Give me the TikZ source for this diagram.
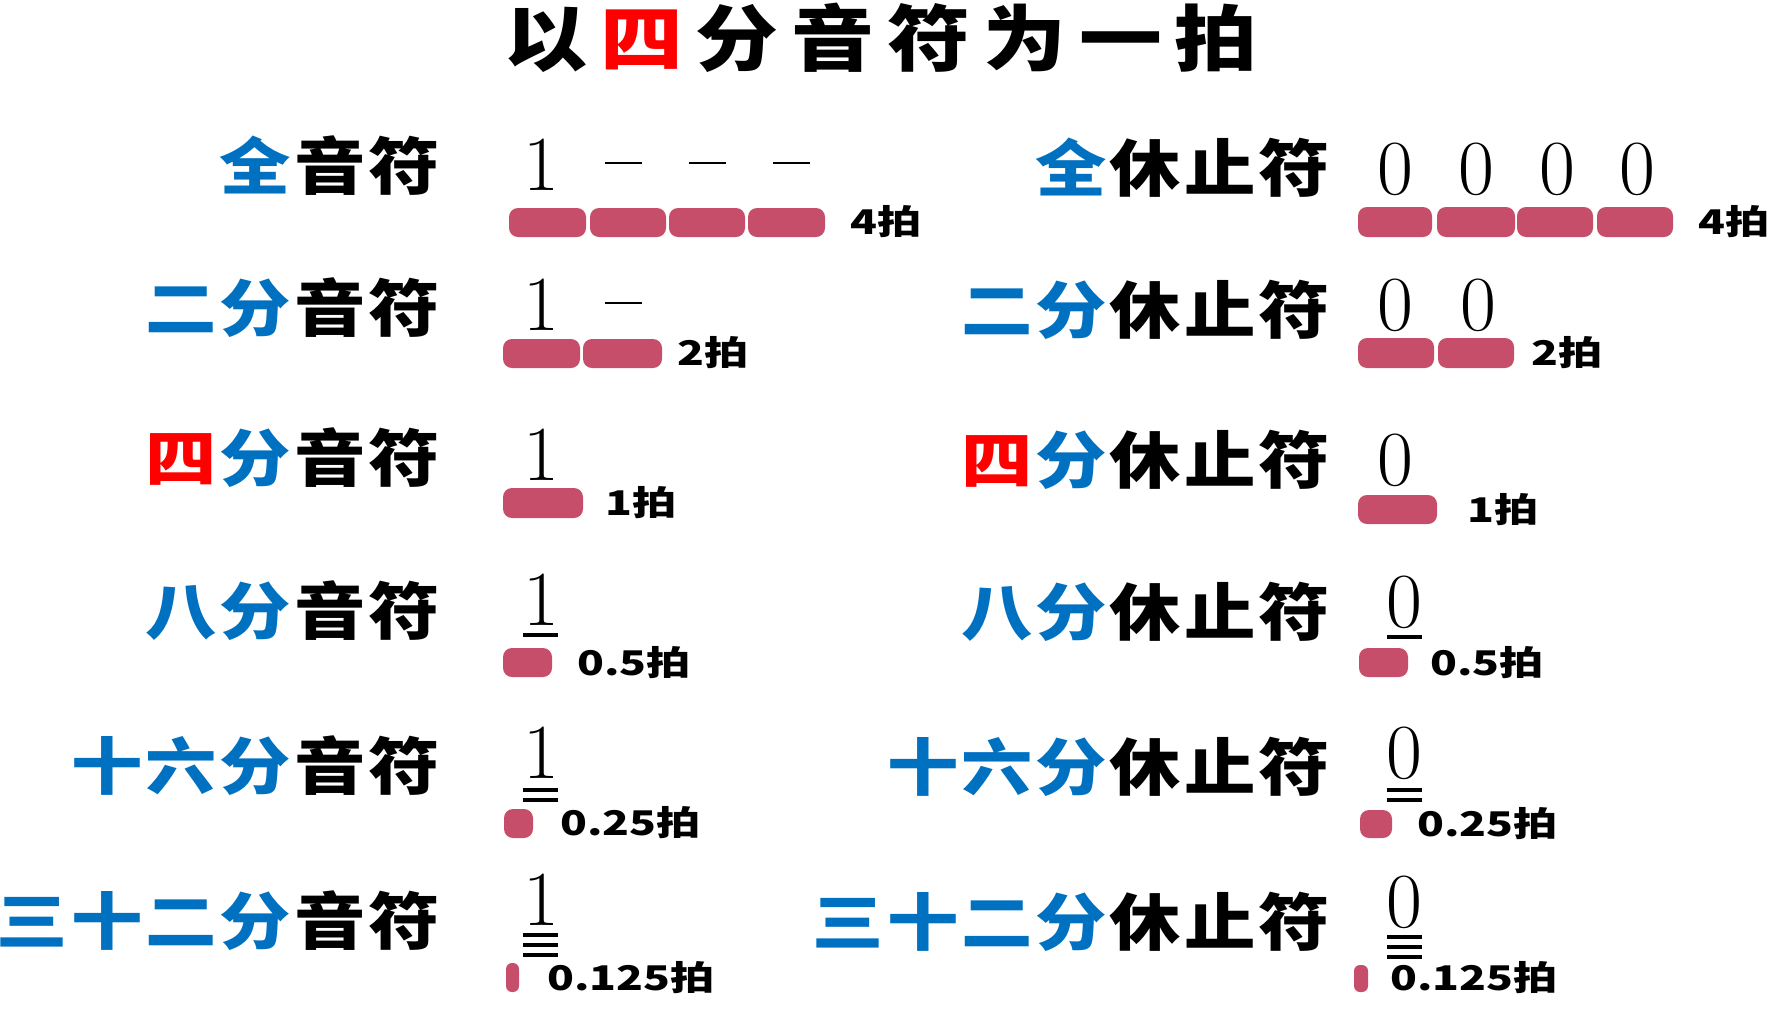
\documentclass[tikz,border=0pt]{standalone}
\usepackage{fontspec}
\newfontfamily\cjklab{Noto Sans CJK SC}[FakeStretch=1.15]
\newfontfamily\cjkbeat{Noto Sans CJK SC}[FakeStretch=1.3]
\definecolor{lblue}{RGB}{0,112,192}
\definecolor{barcol}{RGB}{199,78,107}
\definecolor{sred}{RGB}{255,0,0}
\newcommand\gp{\hspace{3pt}}
\newcommand\tg{\hspace{13pt}}
\tikzset{
 lab/.style={anchor=east, inner sep=0pt, font=\cjklab\bfseries\fontsize{62}{70}\selectfont},
 ttl/.style={inner sep=0pt, font=\cjklab\bfseries\fontsize{72}{80}\selectfont},
 num/.style={anchor=base, inner sep=0pt, font=\fontsize{78}{80}\selectfont},
 beat/.style={anchor=west, inner sep=0pt, font=\cjkbeat\bfseries\fontsize{34}{36}\selectfont},
 barbox/.style={fill=barcol, rounded corners=9pt},
 dashl/.style={line width=2.5pt},
 ul/.style={line width=4pt},
}
\begin{document}
\begin{tikzpicture}[x=1pt,y=-1pt]
\useasboundingbox (0,0) rectangle (1777,1010);
% title
\node[ttl] (title) at (881,38) {以\tg{}{\color{sred}四}\tg{}分\tg{}音\tg{}符\tg{}为\tg{}一\tg{}拍};

% left labels
\node[lab] (l1) at (440,166) {{\color{lblue}全}\gp{}音\gp{}符};
\node[lab] (l2) at (440,308) {{\color{lblue}二\gp{}分}\gp{}音\gp{}符};
\node[lab] (l3) at (440,458) {{\color{sred}四}\gp{}{\color{lblue}分}\gp{}音\gp{}符};
\node[lab] (l4) at (440,611) {{\color{lblue}八\gp{}分}\gp{}音\gp{}符};
\node[lab] (l5) at (440,766) {{\color{lblue}十\gp{}六\gp{}分}\gp{}音\gp{}符};
\node[lab] (l6) at (440,921) {{\color{lblue}三\gp{}十\gp{}二\gp{}分}\gp{}音\gp{}符};

% right labels
\node[lab] (r1) at (1330,168) {{\color{lblue}全}\gp{}休\gp{}止\gp{}符};
\node[lab] (r2) at (1330,310) {{\color{lblue}二\gp{}分}\gp{}休\gp{}止\gp{}符};
\node[lab] (r3) at (1330,460) {{\color{sred}四}\gp{}{\color{lblue}分}\gp{}休\gp{}止\gp{}符};
\node[lab] (r4) at (1330,612) {{\color{lblue}八\gp{}分}\gp{}休\gp{}止\gp{}符};
\node[lab] (r5) at (1330,767) {{\color{lblue}十\gp{}六\gp{}分}\gp{}休\gp{}止\gp{}符};
\node[lab] (r6) at (1330,922) {{\color{lblue}三\gp{}十\gp{}二\gp{}分}\gp{}休\gp{}止\gp{}符};

% ---------- left notes ----------
% row 1
\node[num] (n1) at (541,190) {1};
\draw[dashl] (604.5,163) -- (641.5,163);
\draw[dashl] (688.5,163) -- (725.5,163);
\draw[dashl] (772.5,163) -- (809.5,163);
\fill[barbox] (509,208) rectangle (586,237);
\fill[barbox] (590,208) rectangle (666,237);
\fill[barbox] (669,208) rectangle (745,237);
\fill[barbox] (748,208) rectangle (825,237);
\node[beat] (b1) at (850,222) {4拍};
% row 2
\node[num] (n2) at (541,330) {1};
\draw[dashl] (604.5,303) -- (641.5,303);
\fill[barbox] (503,339) rectangle (580,368);
\fill[barbox] (583,339) rectangle (662,368);
\node[beat] (b2) at (677,353) {2拍};
% row 3
\node[num] (n3) at (541,480) {1};
\fill[barbox] (503,488) rectangle (583,518);
\node[beat] (b3) at (605,503) {1拍};
% row 4
\node[num] (n4) at (541,625) {1};
\draw[ul] (523,635) -- (558,635);
\fill[barbox] (503,648) rectangle (552,677);
\node[beat] (b4) at (577,663) {0.5拍};
% row 5
\node[num] (n5) at (541,778) {1};
\draw[ul] (523,790) -- (558,790);
\draw[ul] (523,800) -- (558,800);
\fill[barbox] (504,809) rectangle (533,838);
\node[beat] (b5) at (560,823) {0.25拍};
% row 6
\node[num] (n6) at (541,925) {1};
\draw[ul] (523,935) -- (558,935);
\draw[ul] (523,945) -- (558,945);
\draw[ul] (523,955) -- (558,955);
\fill[barcol, rounded corners=6pt] (506,963) rectangle (519,992);
\node[beat] (b6) at (547,978) {0.125拍};

% ---------- right rests ----------
% row 1
\node[num] (z1a) at (1395,194) {0};
\node[num] (z1b) at (1476,194) {0};
\node[num] (z1c) at (1557,194) {0};
\node[num] (z1d) at (1637,194) {0};
\fill[barbox] (1358,207) rectangle (1432,237);
\fill[barbox] (1437,207) rectangle (1515,237);
\fill[barbox] (1517,207) rectangle (1593,237);
\fill[barbox] (1597,207) rectangle (1673,237);
\node[beat] (c1) at (1698,222) {4拍};
% row 2
\node[num] (z2a) at (1395,330) {0};
\node[num] (z2b) at (1478,330) {0};
\fill[barbox] (1358,338) rectangle (1434,368);
\fill[barbox] (1438,338) rectangle (1514,368);
\node[beat] (c2) at (1531,353) {2拍};
% row 3
\node[num] (z3) at (1395,485) {0};
\fill[barbox] (1358,495) rectangle (1437,524);
\node[beat] (c3) at (1467,510) {1拍};
% row 4
\node[num] (z4) at (1404,627) {0};
\draw[ul] (1387,637) -- (1422,637);
\fill[barbox] (1359,648) rectangle (1408,677);
\node[beat] (c4) at (1430,663) {0.5拍};
% row 5
\node[num] (z5) at (1404,778) {0};
\draw[ul] (1387,790) -- (1422,790);
\draw[ul] (1387,800) -- (1422,800);
\fill[barbox] (1360,810) rectangle (1392,838);
\node[beat] (c5) at (1417,824) {0.25拍};
% row 6
\node[num] (z6) at (1404,927) {0};
\draw[ul] (1387,937) -- (1422,937);
\draw[ul] (1387,947) -- (1422,947);
\draw[ul] (1387,957) -- (1422,957);
\fill[barcol, rounded corners=6pt] (1354,965) rectangle (1368,992);
\node[beat] (c6) at (1390,978) {0.125拍};
\end{tikzpicture}
\end{document}
